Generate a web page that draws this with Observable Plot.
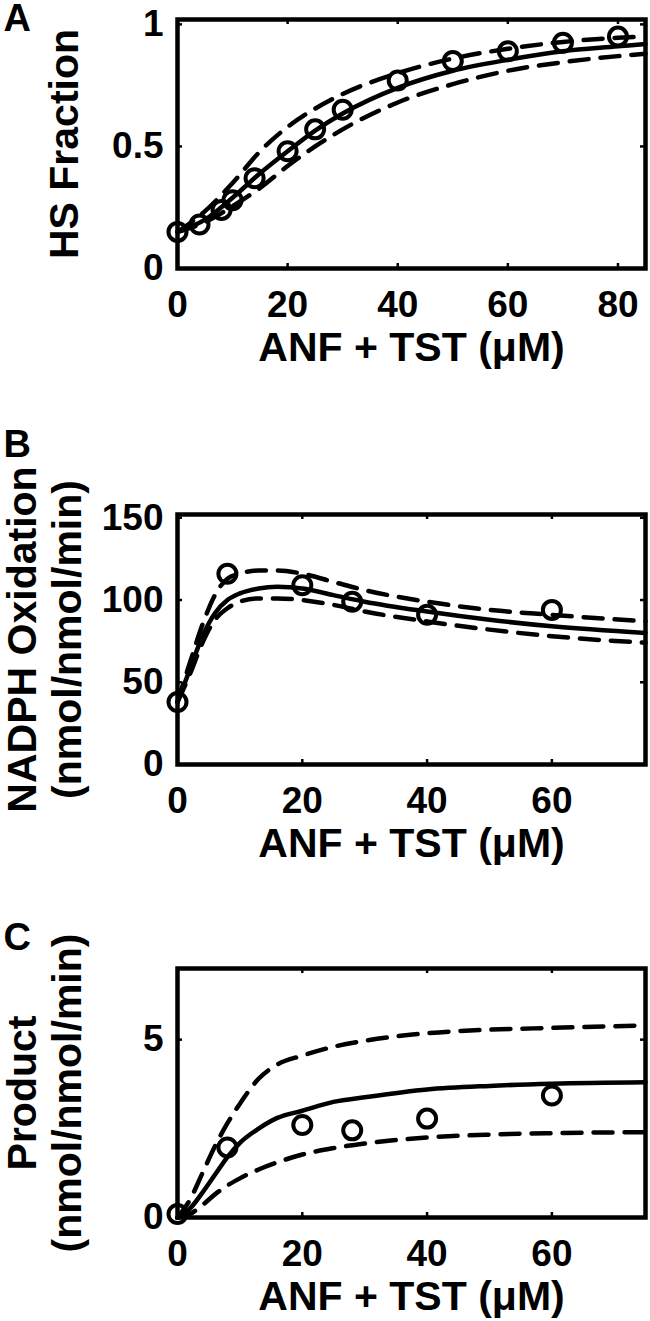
<!DOCTYPE html>
<html>
<head>
<meta charset="utf-8">
<script src="https://cdn.jsdelivr.net/npm/d3@7"></script>
<script src="https://cdn.jsdelivr.net/npm/@observablehq/plot@0.6"></script>
<style>
  html, body { margin: 0; padding: 0; background: #fff; }
  #chart svg { display: block; }
</style>
</head>
<body>
<div id="chart"></div>
<script>
// ---------- Panel A: HS fraction ----------
const aPointX = [0, 4, 8, 10, 14, 20, 25, 30, 40, 50, 60, 70, 80];
const aPointY = [0.15, 0.18, 0.24, 0.28, 0.37, 0.48, 0.57, 0.65, 0.77, 0.85, 0.89, 0.925, 0.95];
const aCurveX = [0, 5, 10, 15, 20, 25, 30, 40, 50, 60, 70, 80, 85];
const aSolid  = [0.15, 0.20, 0.29, 0.39, 0.48, 0.565, 0.635, 0.74, 0.81, 0.855, 0.89, 0.91, 0.92];
const aUpper  = [0.15, 0.235, 0.35, 0.48, 0.58, 0.655, 0.715, 0.80, 0.86, 0.90, 0.928, 0.945, 0.95];
const aLower  = [0.15, 0.19, 0.255, 0.33, 0.42, 0.50, 0.57, 0.68, 0.755, 0.81, 0.845, 0.87, 0.88];
const aXTicks = [0, 20, 40, 60, 80];
const aYTicks = [0, 0.5, 1];

// ---------- Panel B: NADPH oxidation ----------
const bPointX = [0, 8, 20, 28, 40, 60];
const bPointY = [38, 116, 109, 99, 91, 94];
const bCurveX = [0, 2, 4, 6, 8, 10, 13, 16, 20, 25, 30, 40, 50, 60, 75];
const bSolid  = [38, 58, 78, 92, 100, 104, 107, 108, 107, 103, 99, 93, 88, 84, 80];
const bUpper  = [38, 62, 85, 103, 113, 116, 118, 118, 116, 111, 106, 99, 94, 91, 87];
const bLower  = [38, 55, 74, 88, 95, 99, 101, 101, 100, 97, 93, 87, 82, 78, 74];
const bXTicks = [0, 20, 40, 60];
const bYTicks = [0, 50, 100, 150];

// ---------- Panel C: Product ----------
const cPointX = [0, 8, 20, 28, 40, 60];
const cPointY = [0.1, 1.97, 2.6, 2.45, 2.78, 3.43];
const cCurveX = [0, 2, 4, 6, 8, 10, 13, 16, 20, 25, 30, 40, 50, 60, 75];
const cSolid  = [0, 0.25, 0.7, 1.2, 1.7, 2.1, 2.5, 2.8, 3.0, 3.25, 3.38, 3.6, 3.7, 3.76, 3.8];
const cUpper  = [0, 0.5, 1.25, 2.0, 2.65, 3.2, 3.9, 4.3, 4.55, 4.8, 4.97, 5.18, 5.28, 5.33, 5.4];
const cLower  = [0, 0.1, 0.35, 0.65, 0.9, 1.1, 1.35, 1.55, 1.77, 1.95, 2.08, 2.25, 2.33, 2.37, 2.4];
const cXTicks = [0, 20, 40, 60];
const cYTicks = [0, 5];

const xLabel = "ANF + TST (μM)";

const FONT = "'Liberation Sans', Arial, Helvetica, sans-serif";
const W = 650, ML = 177, MR = 5;

function rows(xs, ys) { return xs.map((x, i) => ({x, y: ys[i]})); }

function panel(o) {
  const frameH = o.height - o.mt - o.mb;
  const frameW = W - ML - MR;
  const lineOpts = {x: "x", y: "y", stroke: "black", strokeWidth: 4.5, curve: "monotone-x"};
  const dashOpts = {...lineOpts, strokeDasharray: "19,12"};
  const yLabelMarks = o.yLabels.map((t, i) => Plot.text([t], {
    text: d => d, frameAnchor: "left", rotate: -90, textAnchor: "middle", lineAnchor: "middle",
    dx: o.yLabelDx[i], fontSize: 41, fontWeight: "bold", fill: "black"
  }));
  return Plot.plot({
    width: W, height: o.height,
    marginLeft: ML, marginRight: MR, marginTop: o.mt, marginBottom: o.mb,
    style: {fontFamily: FONT, fontWeight: "bold", background: "#fff", color: "black", overflow: "visible"},
    x: {domain: o.xDomain},
    y: {domain: o.yDomain},
    marks: [
      Plot.line(rows(o.curveX, o.upper), dashOpts),
      Plot.line(rows(o.curveX, o.lower), dashOpts),
      Plot.line(rows(o.curveX, o.solid), lineOpts),
      Plot.dot(rows(o.pointX, o.pointY), {x: "x", y: "y", r: 9, stroke: "black", strokeWidth: 4, fill: "none"}),
      Plot.frame({stroke: "black", strokeWidth: 4.5}),
      Plot.tickX(o.xTicks, {x: d => d, insetTop: frameH - 5, stroke: "black", strokeWidth: 2.5}),
      Plot.tickX(o.xTicks, {x: d => d, insetBottom: frameH - 5, stroke: "black", strokeWidth: 2.5}),
      Plot.tickY(o.yTicks, {y: d => d, insetRight: frameW - 5, stroke: "black", strokeWidth: 2.5}),
      Plot.tickY(o.yTicks, {y: d => d, insetLeft: frameW - 5, stroke: "black", strokeWidth: 2.5}),
      Plot.axisX(o.xTicks, {tickSize: 0, tickPadding: 22, fontSize: 37, fontWeight: "bold", label: null, tickFormat: d => String(d)}),
      Plot.axisY(o.yTicks, {tickSize: 0, tickPadding: 14, fontSize: 37, fontWeight: "bold", label: null, tickFormat: d => String(d)}),
      Plot.text([xLabel], {text: d => d, frameAnchor: "bottom", textAnchor: "middle", lineAnchor: "middle",
        dy: 79, fontSize: 41, fontWeight: "bold", fill: "black"}),
      ...yLabelMarks,
      Plot.text([o.letter], {text: d => d, frameAnchor: "top-left", textAnchor: "start", lineAnchor: "top",
        dx: -174, dy: o.letterDy, fontSize: 38, fontWeight: "bold", fill: "black"})
    ]
  });
}

const chart = document.getElementById("chart");

chart.append(panel({
  letter: "A", letterDy: -15,
  height: 420, mt: 19, mb: 152,
  xDomain: [0, 85], yDomain: [0, 1.02],
  xTicks: aXTicks, yTicks: aYTicks,
  pointX: aPointX, pointY: aPointY,
  curveX: aCurveX, solid: aSolid, upper: aUpper, lower: aLower,
  yLabels: ["HS Fraction"], yLabelDx: [-113]
}));

chart.append(panel({
  letter: "B", letterDy: -84,
  height: 470, mt: 94, mb: 126,
  xDomain: [0, 75], yDomain: [0, 152],
  xTicks: bXTicks, yTicks: bYTicks,
  pointX: bPointX, pointY: bPointY,
  curveX: bCurveX, solid: bSolid, upper: bUpper, lower: bLower,
  yLabels: ["NADPH Oxidation", "(nmol/nmol/min)"], yLabelDx: [-155, -110]
}));

chart.append(panel({
  letter: "C", letterDy: -45,
  height: 431, mt: 78, mb: 104,
  xDomain: [0, 75], yDomain: [0, 7],
  xTicks: cXTicks, yTicks: cYTicks,
  pointX: cPointX, pointY: cPointY,
  curveX: cCurveX, solid: cSolid, upper: cUpper, lower: cLower,
  yLabels: ["Product", "(nmol/nmol/min)"], yLabelDx: [-155, -110]
}));
</script>
</body>
</html>
